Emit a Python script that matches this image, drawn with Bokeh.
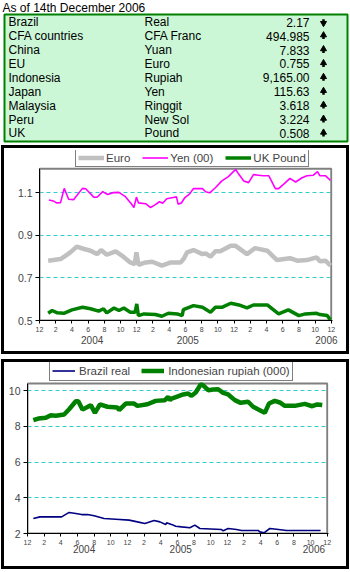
from bokeh.plotting import figure
from bokeh.layouts import column
from bokeh.models import Range1d, FixedTicker, LinearAxis, Legend, LegendItem
from bokeh.core.properties import value
from bokeh.embed import file_html
from bokeh.resources import INLINE

FONT = "Liberation Sans"

# ---------------- data ----------------
as_of = "As of 14th December 2006"
countries = ["Brazil", "CFA countries", "China", "EU", "Indonesia", "Japan",
             "Malaysia", "Peru", "UK"]
currencies = ["Real", "CFA Franc", "Yuan", "Euro", "Rupiah", "Yen", "Ringgit",
              "New Sol", "Pound"]
rates = ["2.17", "494.985", "7.833", "0.755", "9,165.00", "115.63", "3.618",
         "3.224", "0.508"]
directions = ["down", "up", "up", "up", "up", "up", "up", "up", "up"]

# months since Dec 2003
month_ticks = list(range(0, 37, 2))
month_labels = ["12", "2", "4", "6", "8", "10", "12", "2", "4", "6", "8", "10",
                "12", "2", "4", "6", "8", "10", "12"]
year_labels = ["2004", "2005", "2006"]
year_pos1 = [6.5, 18.3, 35.4]
year_pos2 = [6.8, 18.4, 34.4]

euro_m = [1.07, 2.6, 3.2, 3.8, 4.6, 5.5, 6.3, 7.1, 7.6, 8.3, 9.4, 10.2, 11.2, 11.75,
          11.96, 12.2, 13.1, 13.9, 15.1, 16.2, 17.4, 17.8, 18.2, 19.0, 20.1, 20.5,
          21.1, 21.7, 22.3, 23.6, 24.2, 25.6, 26.6, 28.1, 29.3, 30.9, 31.8, 33.0,
          34.2, 34.6, 35.3, 35.9]
euro_v = [0.781, 0.789, 0.804, 0.82, 0.847, 0.836, 0.828, 0.812, 0.831, 0.809,
          0.825, 0.804, 0.773, 0.765, 0.82, 0.762, 0.773, 0.776, 0.758, 0.773,
          0.773, 0.79, 0.82, 0.831, 0.812, 0.815, 0.80, 0.825, 0.825, 0.851,
          0.851, 0.812, 0.84, 0.828, 0.784, 0.793, 0.781, 0.784, 0.797, 0.778,
          0.781, 0.758]

yen_m = [1.15, 1.7, 2.1, 2.6, 3.05, 3.6, 4.2, 5.3, 5.7, 6.7, 7.1, 7.8, 8.4, 9.1,
         9.8, 10.6, 11.3, 11.65, 11.96, 12.2, 13.1, 13.7, 14.2, 14.8, 15.2, 15.7,
         16.5, 16.9, 17.1, 17.5, 17.9, 18.5, 19.0, 20.1, 20.5, 21.0, 21.7, 22.5,
         23.3, 24.2, 24.6, 25.2, 25.8, 26.4, 27.0, 27.6, 28.3, 29.1, 29.5, 30.1,
         30.9, 31.6, 32.4, 33.0, 33.8, 34.3, 34.6, 35.3, 35.9]
yen_v = [1.066, 1.062, 1.053, 1.054, 1.121, 1.07, 1.068, 1.121, 1.119, 1.08,
         1.079, 1.106, 1.092, 1.101, 1.102, 1.082, 1.05, 1.031, 1.08, 1.053,
         1.049, 1.031, 1.042, 1.058, 1.051, 1.072, 1.078, 1.081, 1.047, 1.052,
         1.076, 1.094, 1.12, 1.12, 1.105, 1.10, 1.124, 1.156, 1.176, 1.21,
         1.187, 1.156, 1.148, 1.186, 1.183, 1.18, 1.18, 1.12, 1.12, 1.14,
         1.168, 1.151, 1.171, 1.18, 1.183, 1.2, 1.18, 1.18, 1.159]

gbp_m = [1.07, 1.56, 2.2, 3.0, 4.0, 5.3, 6.3, 7.3, 7.9, 8.3, 9.2, 9.8, 10.4, 11.2,
         11.8, 12.0, 12.2, 12.9, 14.3, 15.1, 15.9, 17.0, 17.6, 17.75, 19.0, 20.1,
         21.1, 21.7, 22.5, 23.6, 24.6, 25.6, 26.4, 28.1, 29.5, 30.7, 32.0, 32.8,
         34.2, 34.6, 35.5, 35.9]
gbp_v = [0.534, 0.547, 0.536, 0.534, 0.55, 0.562, 0.555, 0.544, 0.555, 0.536,
         0.559, 0.547, 0.559, 0.539, 0.539, 0.578, 0.523, 0.531, 0.528, 0.52,
         0.534, 0.531, 0.523, 0.551, 0.57, 0.562, 0.539, 0.562, 0.562, 0.581,
         0.573, 0.559, 0.573, 0.573, 0.531, 0.55, 0.523, 0.531, 0.534, 0.528,
         0.523, 0.503]

idr_m = [0.7, 1.3, 2.2, 2.8, 3.4, 4.4, 5.0, 5.8, 6.1, 6.6, 7.6, 8.1, 8.7, 9.6,
         10.8, 11.0, 11.8, 12.8, 13.2, 14.4, 15.4, 16.5, 16.9, 17.1, 17.3, 17.9,
         18.7, 19.3, 19.7, 20.2, 20.8, 21.1, 21.7, 22.3, 22.9, 23.5, 24.1, 24.9,
         25.6, 26.5, 27.1, 27.9, 28.5, 29.0, 29.7, 30.3, 30.9, 32.1, 33.3, 34.2,
         34.8, 35.4]
idr_v = [8.35, 8.44, 8.48, 8.63, 8.6, 8.67, 8.96, 9.41, 9.41, 8.94, 9.19, 8.76,
         9.23, 9.1, 9.06, 8.91, 9.28, 9.28, 9.15, 9.24, 9.43, 9.47, 9.66, 9.47,
         9.56, 9.66, 9.79, 9.84, 9.71, 9.9, 10.35, 10.3, 10.03, 10.07, 10.08,
         9.88, 9.79, 9.47, 9.32, 9.38, 9.1, 8.91, 8.76, 9.28, 9.43, 9.34, 9.15,
         9.15, 9.26, 9.13, 9.23, 9.2]

brl_m = [0.7, 1.5, 4.1, 5.0, 5.8, 6.5, 7.2, 8.0, 9.2, 10.6, 12.2, 13.2, 14.1, 15.2,
         15.9, 16.6, 16.7, 17.3, 17.5, 17.8, 18.5, 19.5, 20.1, 20.7, 23.3, 23.5,
         24.1, 25.1, 25.7, 27.7, 27.9, 28.4, 29.1, 29.9, 31.1, 35.2]
brl_v = [2.84, 2.93, 2.93, 3.18, 3.12, 3.06, 3.06, 2.99, 2.84, 2.80, 2.75, 2.65,
         2.56, 2.73, 2.65, 2.5, 2.6, 2.5, 2.47, 2.41, 2.37, 2.32, 2.47, 2.28,
         2.22, 2.15, 2.28, 2.22, 2.17, 2.17, 2.09, 2.04, 2.28, 2.24, 2.17, 2.17]

y1_ticks = [0.5, 0.7, 0.9, 1.1]
y1_min, y1_plot_top = 0.5, 1.213
y2_ticks = [2, 4, 6, 8, 10]
y2_min, y2_plot_top = 2, 10.40
x_min, x_max = 0, 36

# ---------------- table ----------------
t = figure(width=350, height=144, x_range=Range1d(0, 350), y_range=Range1d(144, 0),
           output_backend="svg", toolbar_location=None, min_border=0,
           x_axis_location=None, y_axis_location=None)
t.grid.visible = False
t.outline_line_color = None
t.text(x=[2], y=[7], text=[as_of], text_font=value(FONT), text_font_size="12px",
       text_baseline="middle", text_color="black")
t.quad(left=4, right=347, top=14, bottom=141, fill_color="#ccf7d6",
       line_color="#008000", line_width=2)
row_y = [21.7 + 13.9 * i for i in range(len(countries))]
common = dict(text_font=value(FONT), text_font_size="12px", text_baseline="middle",
              text_color="black")
t.text(x=8, y=row_y, text=countries, **common)
t.text(x=144, y=row_y, text=currencies, **common)
t.text(x=309, y=row_y, text=rates, text_align="right", **common)
up_y = [y for y, d in zip(row_y, directions) if d == "up"]
dn_y = [y for y, d in zip(row_y, directions) if d == "down"]
ax = 323
t.scatter(x=[ax] * len(up_y), y=[y - 1.0 for y in up_y], marker="triangle", size=6,
          color="black")
t.segment(x0=[ax] * len(up_y), y0=[y for y in up_y], x1=[ax] * len(up_y),
          y1=[y + 3.0 for y in up_y], line_width=2.5, color="black")
t.scatter(x=[ax] * len(dn_y), y=[y + 1.0 for y in dn_y], marker="inverted_triangle",
          size=6, color="black")
t.segment(x0=[ax] * len(dn_y), y0=[y - 3.0 for y in dn_y], x1=[ax] * len(dn_y),
          y1=[y for y in dn_y], line_width=2.5, color="black")


def style_chart(p, ticks, year_pos, ymin, ytop, year_standoff):
    p.xgrid.visible = False
    p.ygrid.grid_line_color = "#33cccc"
    p.ygrid.grid_line_dash = "4 3"
    p.ygrid.grid_line_width = 1.2
    p.outline_line_color = None
    p.background_fill_color = "white"
    # plot-area border (grey)
    p.quad(left=[x_min], right=[x_max], bottom=[ymin], top=[ytop], fill_color=None,
           line_color="#808080", line_width=2)
    xa = p.xaxis[0]
    xa.ticker = FixedTicker(ticks=month_ticks, minor_ticks=[])
    xa.major_label_overrides = {m: l for m, l in zip(month_ticks, month_labels)}
    xa.major_label_text_font = FONT
    xa.major_label_text_font_size = "7px"
    xa.major_tick_out = 3
    xa.major_tick_in = 0
    xa.major_label_standoff = 3
    xa.axis_line_color = "black"
    xa.major_tick_line_color = "black"
    ya = p.yaxis[0]
    ya.ticker = FixedTicker(ticks=ticks, minor_ticks=[])
    ya.bounds = (ymin, ytop)
    ya.major_label_text_font = FONT
    ya.major_label_text_font_size = "10.5px"
    ya.major_tick_out = 4
    ya.major_tick_in = 0
    ya.major_label_standoff = 3
    ya.axis_line_color = "black"
    yr = LinearAxis(ticker=FixedTicker(ticks=year_pos, minor_ticks=[]),
                    major_label_overrides={y: l for y, l in zip(year_pos, year_labels)},
                    axis_line_color=None, major_tick_line_color=None,
                    minor_tick_line_color=None, major_label_standoff=year_standoff,
                    major_label_text_font=FONT, major_label_text_font_size="10px")
    p.add_layout(yr, "below")


BOX = {"border": "3px solid black", "background-color": "white"}

# ---------------- chart 1 ----------------
# frame spans legend top (y=1.299) down to 0.5; plot area drawn to y1_plot_top
p1 = figure(width=342, height=203, x_range=Range1d(x_min, 36.15),
            y_range=Range1d(y1_min, 1.299),
            output_backend="svg", toolbar_location=None,
            min_border_left=35, min_border_right=14, min_border_top=2,
            min_border_bottom=31)
style_chart(p1, y1_ticks, year_pos1, y1_min, y1_plot_top, -5)
r_eur = p1.line(euro_m, euro_v, line_color="#c0c0c0", line_width=4.5)
r_yen = p1.line(yen_m, yen_v, line_color="#ff00ff", line_width=1.6)
r_gbp = p1.line(gbp_m, gbp_v, line_color="#008000", line_width=3.5)
leg1 = Legend(items=[LegendItem(label="Euro", renderers=[r_eur]),
                     LegendItem(label="Yen (00)", renderers=[r_yen]),
                     LegendItem(label="UK Pound", renderers=[r_gbp])],
              orientation="horizontal", location=(36, 153), margin=0, padding=2,
              spacing=12, glyph_width=26, glyph_height=13, label_standoff=2,
              label_text_font=FONT, label_text_font_size="11.5px",
              border_line_color="black", border_line_width=1,
              background_fill_color="white", background_fill_alpha=1)
p1.add_layout(leg1)
box1 = column(p1, styles=BOX, margin=(1, 0, 0, 1), spacing=0)

# ---------------- chart 2 ----------------
p2 = figure(width=342, height=204, x_range=Range1d(x_min, 36.15),
            y_range=Range1d(y2_min, 11.58),
            output_backend="svg", toolbar_location=None,
            min_border_left=23, min_border_right=18, min_border_top=0,
            min_border_bottom=33)
style_chart(p2, y2_ticks, year_pos2, y2_min, y2_plot_top, -9)
r_brl = p2.line(brl_m, brl_v, line_color="#000080", line_width=1.6)
r_idr = p2.line(idr_m, idr_v, line_color="#008000", line_width=4.5)
leg2 = Legend(items=[LegendItem(label="Brazil real", renderers=[r_brl]),
                     LegendItem(label="Indonesian rupiah (000)", renderers=[r_idr])],
              orientation="horizontal", location=(22, 152), margin=0, padding=2,
              spacing=11, glyph_width=23, glyph_height=15, label_standoff=4,
              label_text_font=FONT, label_text_font_size="11.5px",
              border_line_color="black", border_line_width=1,
              background_fill_color="white", background_fill_alpha=1)
p2.add_layout(leg2)
box2 = column(p2, styles=BOX, margin=(5, 0, 0, 1), spacing=0)

layout = column(t, box1, box2, spacing=0)
open("out.html", "w").write(file_html(layout, INLINE))
